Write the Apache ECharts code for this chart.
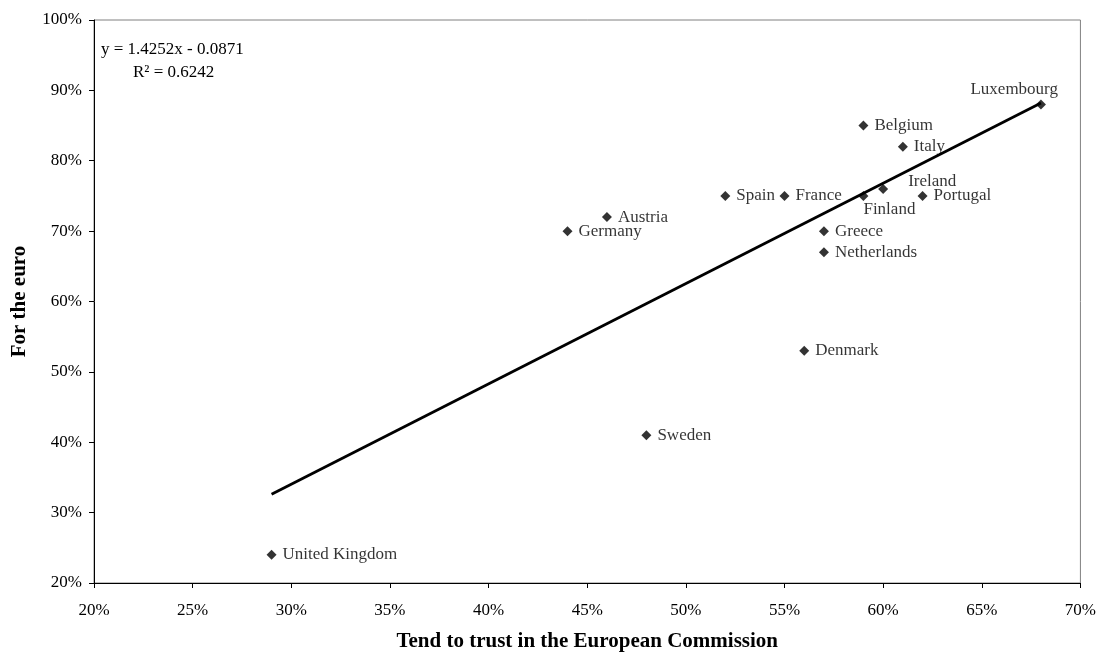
<!DOCTYPE html>
<html>
<head>
<meta charset="utf-8">
<script src="https://cdn.jsdelivr.net/npm/echarts@6/dist/echarts.min.js"></script>
<style>
html,body{margin:0;padding:0;background:#fff;}
#chart{width:1099px;height:657px;}
</style>
</head>
<body>
<div id="chart"></div>
<script>
// Data (fractions)
var countries = ['United Kingdom','Sweden','Denmark','Germany','Austria','Spain','France','Finland','Ireland','Portugal','Greece','Netherlands','Belgium','Italy','Luxembourg'];
var trustEC  = [0.29,0.48,0.56,0.44,0.46,0.52,0.55,0.59,0.60,0.62,0.57,0.57,0.59,0.61,0.68];
var forEuro  = [0.24,0.41,0.53,0.70,0.72,0.75,0.75,0.75,0.76,0.75,0.70,0.67,0.85,0.82,0.88];
var trendSlope = 1.4252;
var trendIntercept = -0.0871;
var trendR2 = 0.6242;
var xTicks = [0.20,0.25,0.30,0.35,0.40,0.45,0.50,0.55,0.60,0.65,0.70];
var yTicks = [0.2,0.3,0.4,0.5,0.6,0.7,0.8,0.9,1.0];

var FONT = 'Liberation Serif';
var labelOverrides = {
  'Finland': {position:'bottom', offset:[26,0], distance:0},
  'Ireland': {position:'right', offset:[14,-7]},
  'Luxembourg': {position:'top', align:'right', offset:[17,0], distance:1}
};

var pts = countries.map(function(c,i){
  var item = {name:c, value:[trustEC[i], forEuro[i]]};
  if (labelOverrides[c]) item.label = labelOverrides[c];
  return item;
});
var xmin = Math.min.apply(null, trustEC), xmax = Math.max.apply(null, trustEC);
var trendData = [[xmin, trendSlope*xmin+trendIntercept],[xmax, trendSlope*xmax+trendIntercept]];

function pct(v){ return Math.round(v*100) + '%'; }

var chart = echarts.init(document.getElementById('chart'));
chart.setOption({
  backgroundColor:'#fff',
  animation:false,
  textStyle:{fontFamily:FONT},
  grid:{left:94, right:18, top:20, bottom:73, show:true, borderColor:'#808080', borderWidth:1, backgroundColor:'transparent'},
  xAxis:{
    type:'value', min:xTicks[0], max:xTicks[xTicks.length-1], interval:0.05,
    name:'Tend to trust in the European Commission', nameLocation:'middle', nameGap:48,
    nameTextStyle:{fontFamily:FONT, fontWeight:'bold', fontSize:21, color:'#000'},
    axisLine:{show:true, onZero:false, lineStyle:{color:'#000', width:1}},
    axisTick:{show:true, length:5, lineStyle:{color:'#000'}},
    axisLabel:{formatter:pct, fontFamily:FONT, fontSize:17, color:'#000', margin:19},
    splitLine:{show:false}
  },
  yAxis:{
    type:'value', min:yTicks[0], max:yTicks[yTicks.length-1], interval:0.1,
    name:'For the euro', nameLocation:'middle', nameGap:64, nameRotate:90,
    nameTextStyle:{fontFamily:FONT, fontWeight:'bold', fontSize:21, color:'#000'},
    axisLine:{show:true, onZero:false, lineStyle:{color:'#000', width:1}},
    axisTick:{show:true, length:5, lineStyle:{color:'#000'}},
    axisLabel:{formatter:pct, fontFamily:FONT, fontSize:17, color:'#000', margin:12},
    splitLine:{show:false}
  },
  series:[
    {
      type:'line', data:trendData, symbol:'none', silent:true,
      lineStyle:{color:'#000', width:2.8}, z:2
    },
    {
      type:'scatter', data:pts, symbol:'diamond', symbolSize:10,
      itemStyle:{color:'#000'}, z:3,
      label:{show:true, position:'right', distance:6, formatter:'{b}', fontFamily:FONT, fontSize:17, color:'#000'}
    }
  ],
  graphic:[
    {type:'text', left:101, top:41, style:{text:'y = 1.4252x - 0.0871', font:'17px "Liberation Serif"', fill:'#000'}},
    {type:'text', left:133, top:64, style:{text:'R\u00B2 = ' + trendR2.toFixed(4), font:'17px "Liberation Serif"', fill:'#000'}}
  ]
});
</script>
</body>
</html>
